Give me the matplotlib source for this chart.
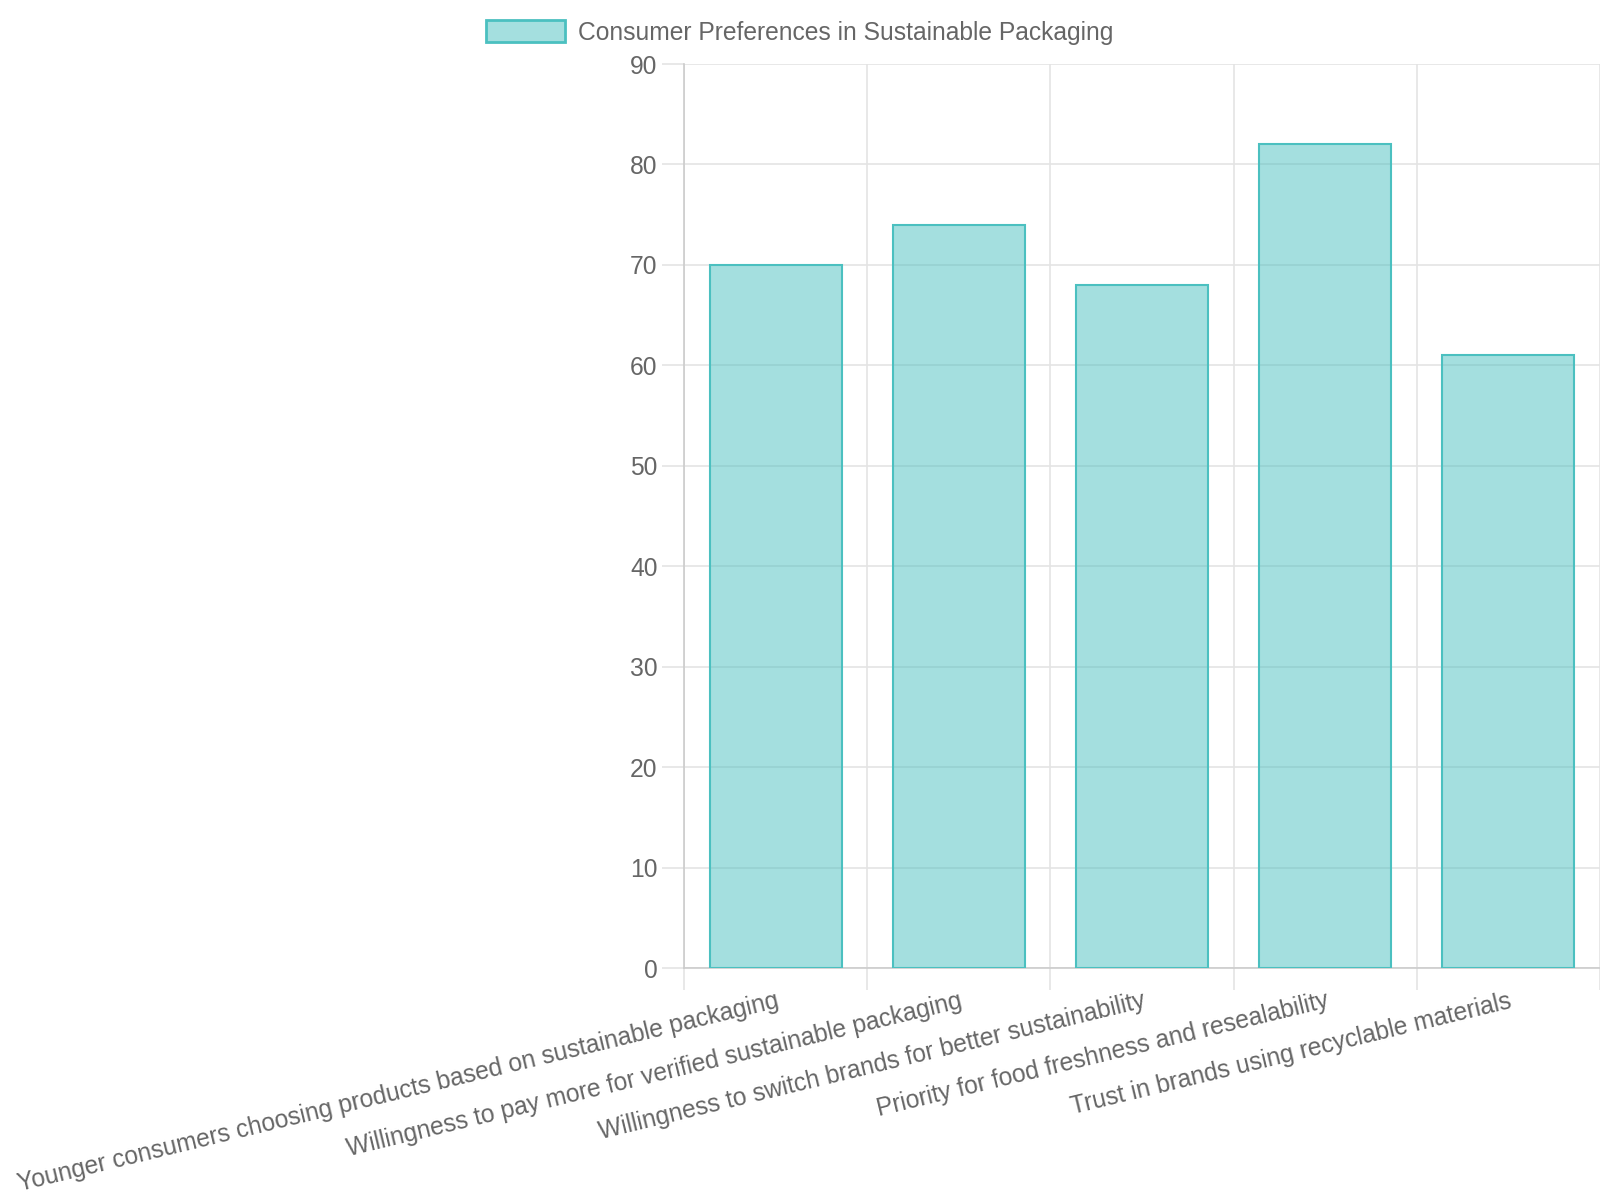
import matplotlib.pyplot as plt
import numpy as np

categories = [
    "Younger consumers choosing products based on sustainable packaging",
    "Willingness to pay more for verified sustainable packaging",
    "Willingness to switch brands for better sustainability",
    "Priority for food freshness and resealability",
    "Trust in brands using recyclable materials",
]
values = [70, 74, 68, 82, 61]
series_name = "Consumer Preferences in Sustainable Packaging"

plt.rcParams['font.family'] = ['Liberation Sans', 'DejaVu Sans']
text_col = '#666666'
grid_col = '#e4e4e4'
fill_col = (75/255, 192/255, 192/255, 0.5)
edge_col = (75/255, 192/255, 192/255, 1.0)
fs = 17.7

fig = plt.figure(figsize=(16, 12), dpi=100)
ax = fig.add_axes([684/1600, 1 - 968/1200, 1 - 684/1600, (968 - 64)/1200])

x = np.arange(len(categories))
ax.bar(x, values, width=0.72, color=fill_col, edgecolor=edge_col, linewidth=1.5,
       label=series_name, zorder=3)

ax.set_xlim(-0.5, len(categories) - 0.5)
ax.set_ylim(0, 90)
ax.set_yticks(range(0, 91, 10))

# gridlines at category boundaries
ax.set_xticks(np.arange(-0.5, len(categories), 1.0), minor=True)
ax.set_xticks(x)
ax.set_xticklabels(categories, rotation=13.6, ha='right', va='top',
                   rotation_mode='anchor', fontsize=fs, color=text_col)
ax.tick_params(axis='x', which='major', length=0, pad=15)
ax.tick_params(axis='x', which='minor', length=16, color=grid_col, width=1.2)
ax.tick_params(axis='y', length=16, color=grid_col, width=1.2, labelsize=fs,
               labelcolor=text_col, pad=3)
ax.grid(True, which='minor', axis='x', color=grid_col, linewidth=1.2, zorder=0)
ax.grid(True, which='major', axis='y', color=grid_col, linewidth=1.2, zorder=0)

for s in ['top', 'right']:
    ax.spines[s].set_visible(False)
for s in ['left', 'bottom']:
    ax.spines[s].set_color('#cccccc')
    ax.spines[s].set_linewidth(1.2)

fig.legend(handles=ax.patches[:1], labels=[series_name], loc='center',
           bbox_to_anchor=(0.5, 1 - 32.5/1200), frameon=False, fontsize=fs,
           labelcolor=text_col, handlelength=3.2, handleheight=1.0,
           handletextpad=0.55)
leg = fig.legends[0]
for h in leg.legend_handles:
    h.set_linewidth(2)

fig.savefig('out.png', dpi=100)
